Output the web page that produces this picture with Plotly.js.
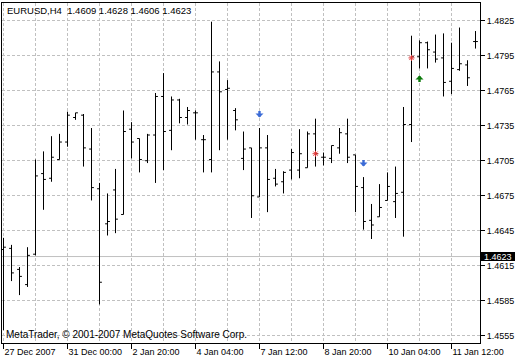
<!DOCTYPE html>
<html><head><meta charset="utf-8">
<script src="https://cdn.plot.ly/plotly-3.0.1.min.js"></script>
<style>html,body{margin:0;padding:0;background:#fff}#chart{width:520px;height:360px}</style>
</head><body><div id="chart"></div>
<script>
const symbol = "EURUSD,H4";
const lastBar = [1.4609, 1.4628, 1.4606, 1.4623];
const currentPrice = 1.4623;
const copyright = "MetaTrader, \u00a9 2001-2007 MetaQuotes Software Corp.";

const times = ["27 Dec 16:00","27 Dec 20:00","28 Dec 00:00","28 Dec 04:00","28 Dec 08:00","28 Dec 12:00","28 Dec 16:00","28 Dec 20:00",
"31 Dec 00:00","31 Dec 04:00","31 Dec 08:00","31 Dec 12:00","31 Dec 16:00","31 Dec 20:00","2 Jan 12:00","2 Jan 16:00",
"2 Jan 20:00","3 Jan 00:00","3 Jan 04:00","3 Jan 08:00","3 Jan 12:00","3 Jan 16:00","3 Jan 20:00","4 Jan 00:00",
"4 Jan 04:00","4 Jan 08:00","4 Jan 12:00","4 Jan 16:00","4 Jan 20:00","7 Jan 00:00","7 Jan 04:00","7 Jan 08:00",
"7 Jan 12:00","7 Jan 16:00","7 Jan 20:00","8 Jan 00:00","8 Jan 04:00","8 Jan 08:00","8 Jan 12:00","8 Jan 16:00",
"8 Jan 20:00","9 Jan 00:00","9 Jan 04:00","9 Jan 08:00","9 Jan 12:00","9 Jan 16:00","9 Jan 20:00","10 Jan 00:00",
"10 Jan 04:00","10 Jan 08:00","10 Jan 12:00","10 Jan 16:00","10 Jan 20:00","11 Jan 00:00","11 Jan 04:00","11 Jan 08:00",
"11 Jan 12:00","11 Jan 16:00","11 Jan 20:00","14 Jan 00:00"];

const open = [1.4629,1.4630,1.4612,1.4599,1.4625,1.4694,1.4690,1.4706,
1.4721,1.4742,1.4744,1.4715,1.4681,1.4651,1.4680,1.4659,
1.4732,1.4724,1.4705,1.4727,1.4760,1.4731,1.4757,1.4742,
1.4746,1.4723,1.4706,1.4781,1.4766,1.4748,1.4707,1.4716,
1.4674,1.4716,1.4690,1.4687,1.4697,1.4697,1.4699,1.4728,
1.4708,1.4707,1.4716,1.4728,1.4710,1.4682,1.4654,1.4657,
1.4671,1.4670,1.4678,1.4736,1.4794,1.4806,1.4798,1.4793,
1.4773,1.4783,1.4787,1.4807];
const high = [1.4639,1.4633,1.4614,1.4631,1.4706,1.4713,1.4726,1.4728,
1.4747,1.4746,1.4745,1.4733,1.4686,1.4677,1.4698,1.4748,
1.4738,1.4724,1.4728,1.4763,1.4780,1.4760,1.4758,1.4751,
1.4748,1.4727,1.4824,1.4790,1.4774,1.4750,1.4730,1.4716,
1.4733,1.4727,1.4698,1.4696,1.4715,1.4732,1.4730,1.4741,
1.4712,1.4718,1.4733,1.4741,1.4710,1.4691,1.4668,1.4685,
1.4695,1.4700,1.4751,1.4812,1.4808,1.4807,1.4813,1.4814,
1.4806,1.4819,1.4791,1.4816];
const low = [1.4560,1.4602,1.4590,1.4597,1.4624,1.4663,1.4687,1.4706,
1.4717,1.4740,1.4700,1.4671,1.4582,1.4641,1.4643,1.4659,
1.4707,1.4695,1.4703,1.4686,1.4697,1.4714,1.4737,1.4736,
1.4723,1.4695,1.4695,1.4714,1.4723,1.4731,1.4697,1.4656,
1.4674,1.4661,1.4683,1.4677,1.4689,1.4690,1.4699,1.4700,
1.4701,1.4703,1.4711,1.4703,1.4661,1.4646,1.4638,1.4657,
1.4671,1.4656,1.4640,1.4721,1.4784,1.4784,1.4789,1.4760,
1.4762,1.4782,1.4769,1.4801];
const close = [1.4631,1.4609,1.4606,1.4624,1.4692,1.4689,1.4708,1.4721,
1.4744,1.4746,1.4716,1.4682,1.4601,1.4653,1.4655,1.4730,
1.4721,1.4706,1.4727,1.4760,1.4730,1.4757,1.4742,1.4748,
1.4746,1.4723,1.4781,1.4764,1.4767,1.4740,1.4715,1.4675,
1.4716,1.4689,1.4685,1.4695,1.4712,1.4711,1.4728,1.4711,
1.4708,1.4718,1.4729,1.4708,1.4683,1.4653,1.4650,1.4665,
1.4683,1.4677,1.4736,1.4794,1.4806,1.4800,1.4792,1.4772,
1.4784,1.4788,1.4776,1.4807];

const labelTimes = ["27 Dec 16:00","31 Dec 00:00","2 Jan 20:00","4 Jan 04:00","7 Jan 12:00","8 Jan 20:00","10 Jan 04:00","11 Jan 12:00"];
const labelTexts = ["27 Dec 2007","31 Dec 00:00","2 Jan 20:00","4 Jan 04:00","7 Jan 12:00","8 Jan 20:00","10 Jan 04:00","11 Jan 12:00"];
const gridTimes = ["27 Dec 16:00","28 Dec 08:00","31 Dec 00:00","31 Dec 16:00","2 Jan 20:00","3 Jan 12:00","4 Jan 04:00","4 Jan 20:00",
"7 Jan 12:00","8 Jan 04:00","8 Jan 20:00","9 Jan 12:00","10 Jan 04:00","10 Jan 20:00","11 Jan 12:00"];
const priceTicks = [1.4555,1.4585,1.4615,1.4645,1.4675,1.4705,1.4735,1.4765,1.4795,1.4825];

const sellTimes = ["7 Jan 12:00","9 Jan 16:00"];
const sellPrices = [1.4742, 1.4700];
const buyTimes = ["10 Jan 20:00"];
const buyPrices = [1.4778];
const exitTimes = ["8 Jan 16:00","10 Jan 16:00"];
const exitPrices = [1.4711, 1.4793];

const idx = t => times.indexOf(t);
const xs = times.map((t, i) => i);

const ohlc = {
  type: 'ohlc', x: xs, open: open, high: high, low: low, close: close,
  increasing: {line: {color: '#000', width: 1}},
  decreasing: {line: {color: '#000', width: 1}},
  tickwidth: 0.3, hoverinfo: 'skip'
};
const exits = {
  type: 'scatter', mode: 'markers', x: exitTimes.map(idx), y: exitPrices,
  marker: {symbol: 'asterisk-open', size: 5, color: '#e03a3a', line: {color: '#e03a3a', width: 1}},
  hoverinfo: 'skip'
};

const annotations = [];
sellTimes.forEach((t, i) => annotations.push({
  x: idx(t), y: sellPrices[i], xref: 'x', yref: 'y', text: '', showarrow: true,
  ax: 0, ay: -8, arrowhead: 1, arrowsize: 0.56, arrowwidth: 2.4, arrowcolor: '#3b6bd6'
}));
buyTimes.forEach((t, i) => annotations.push({
  x: idx(t), y: buyPrices[i], xref: 'x', yref: 'y', text: '', showarrow: true,
  ax: 0, ay: 8, arrowhead: 1, arrowsize: 0.56, arrowwidth: 2.4, arrowcolor: '#0a7a0a'
}));
annotations.push({
  x: 1, xref: 'paper', xanchor: 'left', xshift: 2, y: currentPrice, yref: 'y', yanchor: 'middle',
  text: currentPrice.toFixed(4), showarrow: false, font: {color: '#fff', size: 9}
});
annotations.push({
  x: 0, xref: 'paper', xanchor: 'left', xshift: 2, y: 0, yref: 'paper', yanchor: 'bottom', yshift: 1,
  text: copyright, showarrow: false, font: {color: '#000', size: 10}
});

const gridStyle = {gridcolor: '#c0c0c0', griddash: '3px,2px', gridwidth: 1};

const layout = {
  width: 520, height: 360,
  margin: {l: 2, r: 40, t: 3, b: 17, pad: 0},
  paper_bgcolor: '#fff', plot_bgcolor: '#fff', showlegend: false,
  font: {family: 'Liberation Sans, Arial, sans-serif', size: 9, color: '#000'},
  title: {
    text: symbol + '\u00a0\u00a0' + lastBar.map(v => v.toFixed(4)).join(' '),
    x: 7 / 520, xanchor: 'left', xref: 'container',
    y: 1 - 11 / 360, yanchor: 'middle', yref: 'container',
    font: {size: 9.5, color: '#000'}
  },
  xaxis: Object.assign({
    type: 'linear', range: [-0.1875, 59.5625], fixedrange: true,
    rangeslider: {visible: false},
    tickmode: 'array', tickvals: labelTimes.map(idx), ticktext: labelTexts,
    ticks: 'outside', ticklen: 5, tickcolor: '#000', ticklabelposition: 'outside right',
    showgrid: true, zeroline: false, showline: true, linecolor: '#000', linewidth: 1, mirror: true,
    minor: Object.assign({tickmode: 'array', tickvals: gridTimes.map(idx), showgrid: true, ticks: ''}, gridStyle)
  }, gridStyle),
  yaxis: Object.assign({
    side: 'right', range: [1.4549, 1.4840], fixedrange: true,
    tickmode: 'array', tickvals: priceTicks, tickformat: '.4f',
    ticks: 'outside', ticklen: 4, tickcolor: '#000',
    showgrid: true, zeroline: false, showline: true, linecolor: '#000', linewidth: 1, mirror: true
  }, gridStyle),
  shapes: [
    {type: 'line', xref: 'paper', x0: 0, x1: 1, yref: 'y', y0: currentPrice, y1: currentPrice,
     line: {color: '#c0c0c0', width: 1}, layer: 'below'},
    {type: 'rect', xref: 'paper', x0: 1 + 1 / 478, x1: 1 + 35 / 478, yref: 'y',
     y0: currentPrice - 0.00039, y1: currentPrice + 0.00039, fillcolor: '#000', line: {width: 0}, layer: 'below'}
  ],
  annotations: annotations
};

Plotly.newPlot('chart', [ohlc, exits], layout, {staticPlot: true, displayModeBar: false});
</script></body></html>
